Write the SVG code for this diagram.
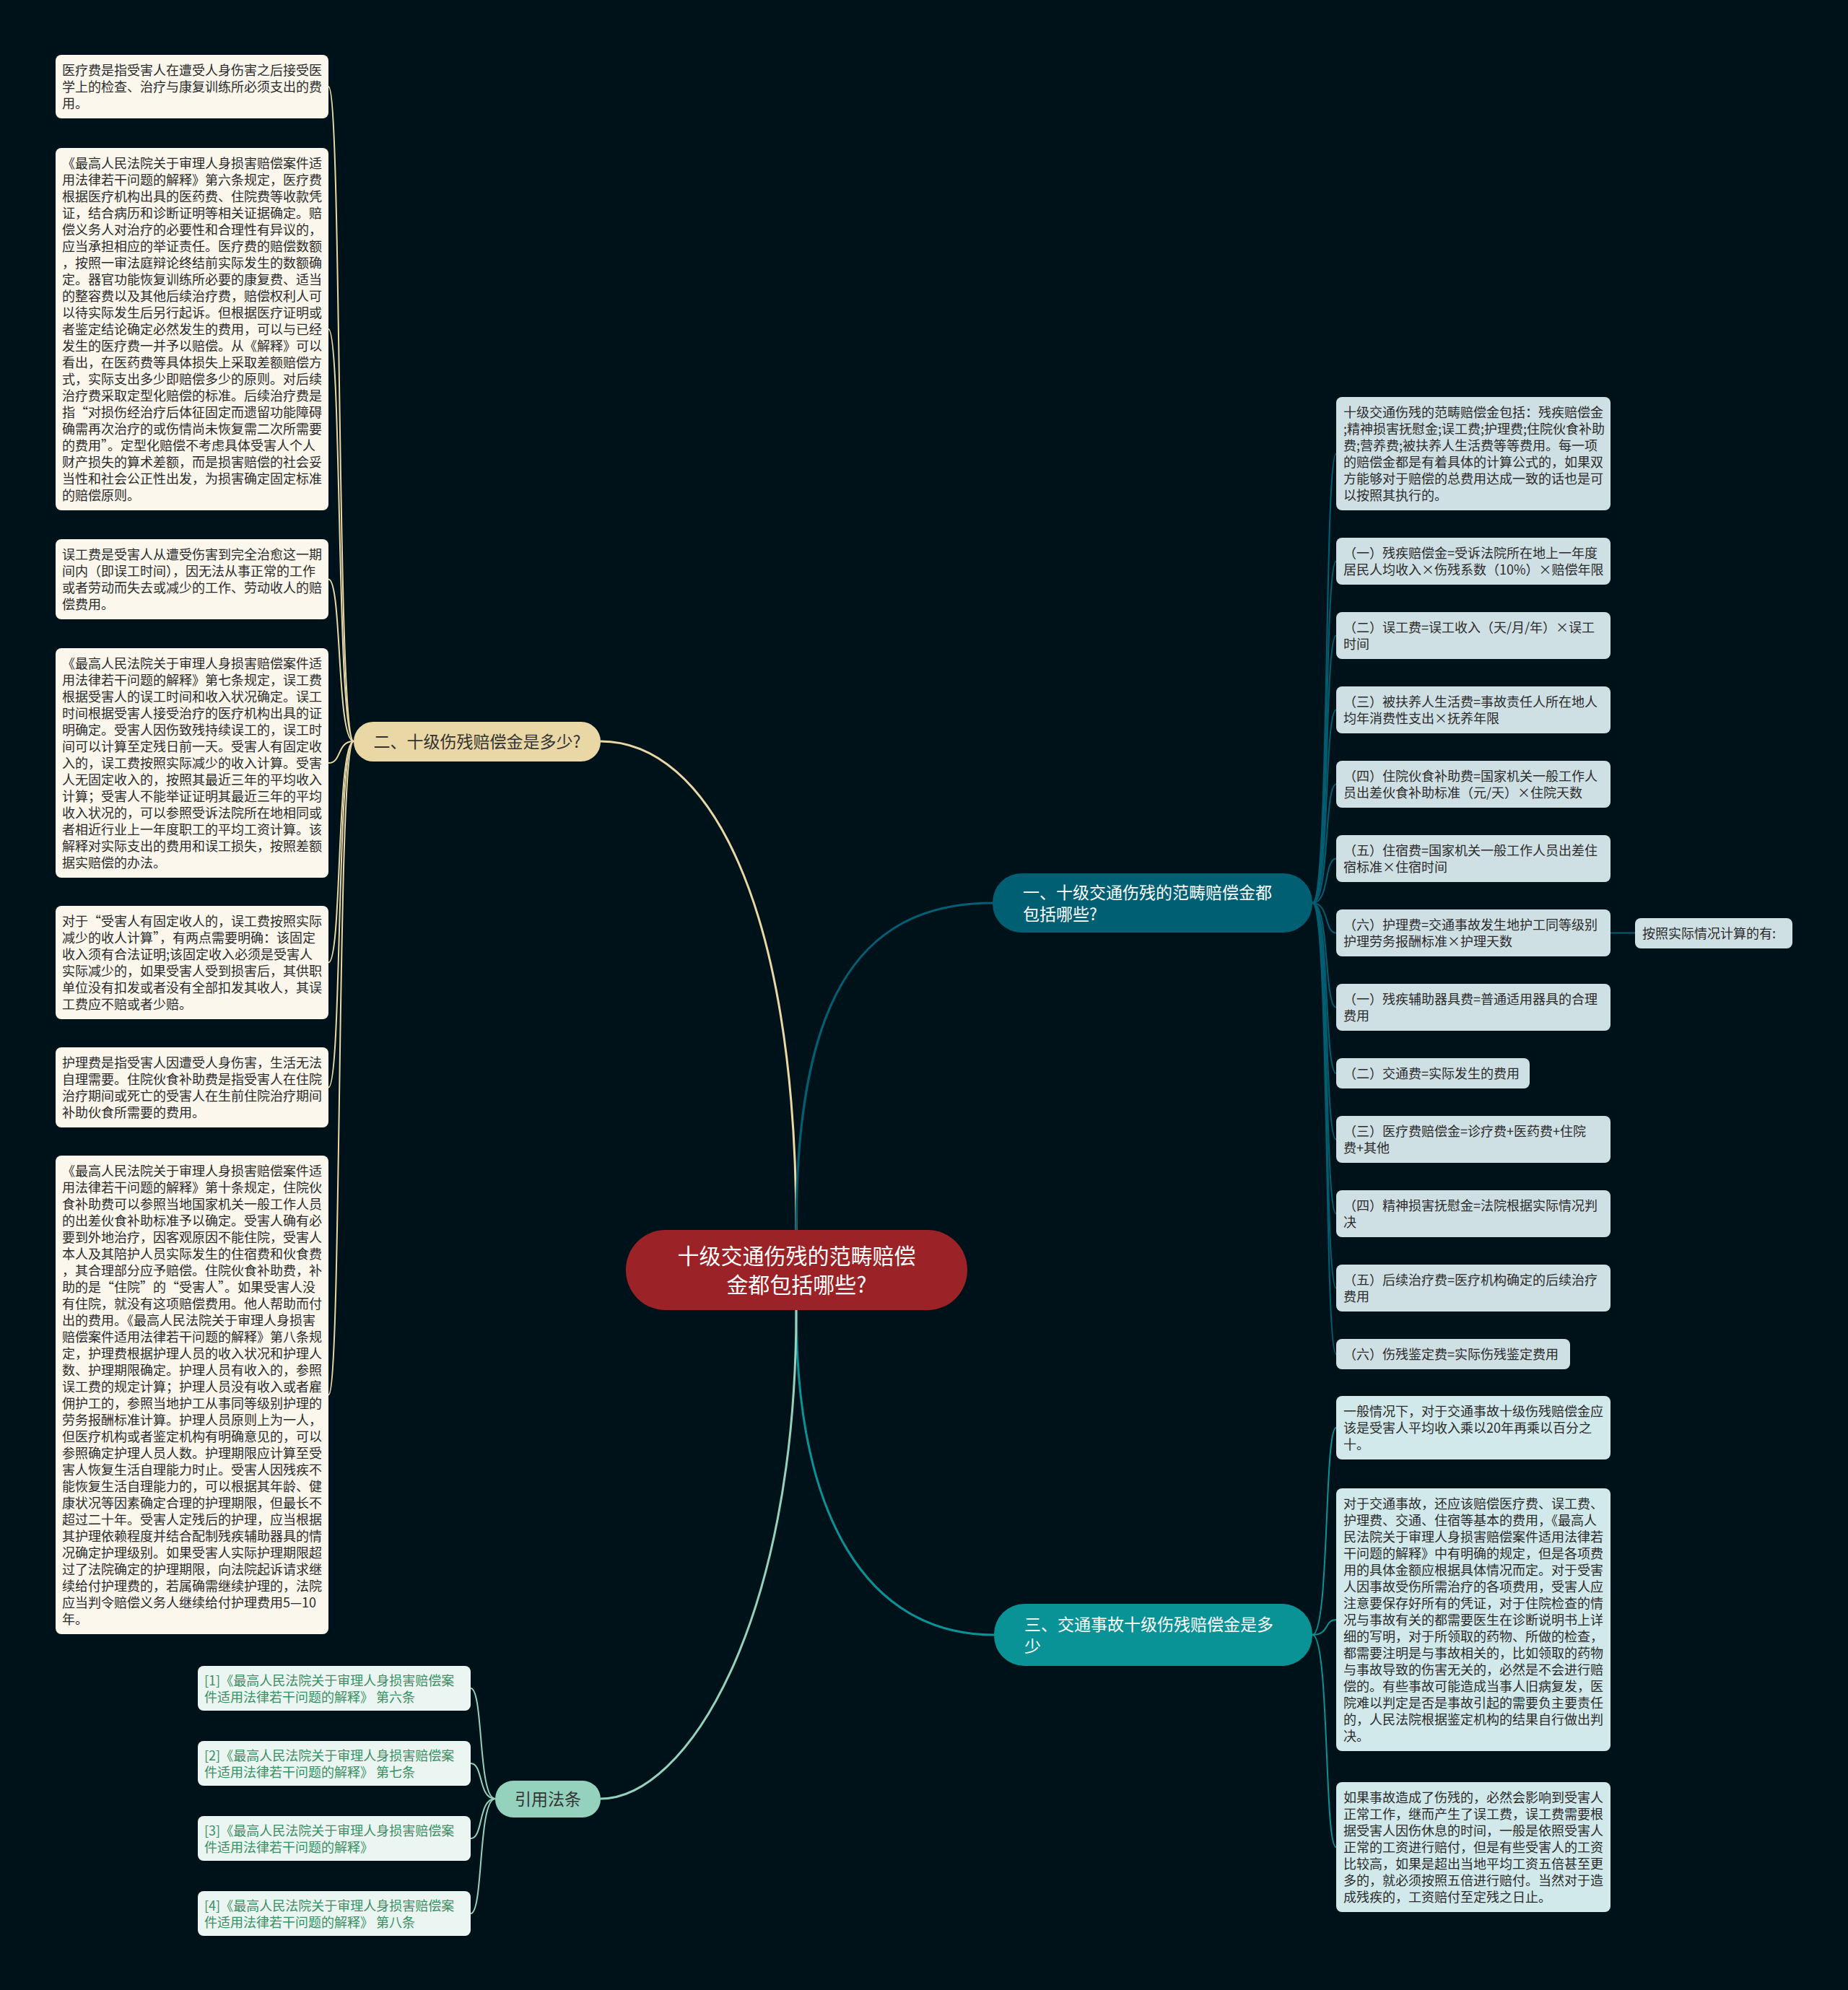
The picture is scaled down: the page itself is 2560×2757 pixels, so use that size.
<svg xmlns="http://www.w3.org/2000/svg" width="2560" height="2757" viewBox="0 0 2560 2757">
<style>
text{font-family:"Noto Sans CJK SC","Noto Sans",sans-serif;}
.t{font-size:18px;fill:#2b2b2b;}
.tc{font-size:18px;fill:#3a9064;}
.b{font-size:23px;}
.lb{fill:#fbf7ed;}
.r1{fill:#cfe0e4;}
.r3{fill:#d1e9ea;}
.cb{fill:#ebf5f1;}
.cn path{fill:none;}
.y{stroke:#e9d8a6;}
.d{stroke:#005f73;}
.g{stroke:#0a9396;}
.m{stroke:#94d2bd;}
.w3{stroke-width:3;}
.w2{stroke-width:2;}
</style>
<rect width="2560" height="2757" fill="#001219"/>

<g id="connectors" class="cn">
  <path class="y w3" d="M1103 1704 C1103 1250 980 1027 832 1027"/>
  <path class="d w3" d="M1103 1704 C1103 1400 1180 1251 1375 1251"/>
  <path class="g w3" d="M1103 1815 C1103 2100 1200 2265 1377 2265"/>
  <path class="m w3" d="M1103 1815 C1103 2250 950 2492 832 2492"/>
  <g class="y w2">
    <path d="M490 1027 C466 1027 474 120 455 120"/>
    <path d="M490 1027 C466 1027 474 456 455 456"/>
    <path d="M490 1027 C466 1027 474 802.5 455 802.5"/>
    <path d="M490 1027 C466 1027 474 1057 455 1057"/>
    <path d="M490 1027 C466 1027 474 1333.5 455 1333.5"/>
    <path d="M490 1027 C466 1027 474 1506.5 455 1506.5"/>
    <path d="M490 1027 C466 1027 474 1932.5 455 1932.5"/>
  </g>
  <g class="d w2">
    <path d="M1818 1251 C1842 1251 1834 628.5 1851 628.5"/>
    <path d="M1818 1251 C1842 1251 1834 777.5 1851 777.5"/>
    <path d="M1818 1251 C1842 1251 1834 880.5 1851 880.5"/>
    <path d="M1818 1251 C1842 1251 1834 983.5 1851 983.5"/>
    <path d="M1818 1251 C1842 1251 1834 1086.5 1851 1086.5"/>
    <path d="M1818 1251 C1842 1251 1834 1189.5 1851 1189.5"/>
    <path d="M1818 1251 C1842 1251 1834 1292.5 1851 1292.5"/>
    <path d="M1818 1251 C1842 1251 1834 1395.5 1851 1395.5"/>
    <path d="M1818 1251 C1842 1251 1834 1487 1851 1487"/>
    <path d="M1818 1251 C1842 1251 1834 1578.5 1851 1578.5"/>
    <path d="M1818 1251 C1842 1251 1834 1681.5 1851 1681.5"/>
    <path d="M1818 1251 C1842 1251 1834 1784.5 1851 1784.5"/>
    <path d="M1818 1251 C1842 1251 1834 1876 1851 1876"/>
    <path d="M2231 1292.5 L2265 1292.5"/>
  </g>
  <g class="g w2">
    <path d="M1818 2265 C1842 2265 1834 1978 1851 1978"/>
    <path d="M1818 2265 C1842 2265 1834 2244 1851 2244"/>
    <path d="M1818 2265 C1842 2265 1834 2559 1851 2559"/>
  </g>
  <g class="m w2">
    <path d="M686 2492 C662 2492 670 2339 652 2339"/>
    <path d="M686 2492 C662 2492 670 2443 652 2443"/>
    <path d="M686 2492 C662 2492 670 2547 652 2547"/>
    <path d="M686 2492 C662 2492 670 2651 652 2651"/>
  </g>
</g>

<g id="center">
  <rect x="867" y="1704" width="473" height="111" rx="55" fill="#9b2226"/>
  <text x="1103.5" y="1751" font-size="30" fill="#ffffff" text-anchor="middle">十级交通伤残的范畴赔偿</text>
  <text x="1103.5" y="1791" font-size="30" fill="#ffffff" text-anchor="middle">金都包括哪些?</text>
</g>

<g id="branch1">
  <rect x="1375" y="1210" width="443" height="82" rx="40" fill="#005f73"/>
  <text class="b" fill="#ffffff"><tspan x="1417" y="1245">一、十级交通伤残的范畴赔偿金都</tspan><tspan x="1417" y="1275">包括哪些?</tspan></text>
</g>
<g id="branch2">
  <rect x="490" y="1000" width="342" height="55" rx="27" fill="#e9d8a6"/>
  <text class="b" x="661" y="1036" fill="#333333" text-anchor="middle">二、十级伤残赔偿金是多少?</text>
</g>
<g id="branch3">
  <rect x="1377" y="2222" width="441" height="86" rx="42" fill="#0a9396"/>
  <text class="b" fill="#ffffff"><tspan x="1419" y="2259">三、交通事故十级伤残赔偿金是多</tspan><tspan x="1419" y="2289">少</tspan></text>
</g>
<g id="branch4">
  <rect x="686" y="2467" width="146" height="51" rx="25" fill="#94d2bd"/>
  <text class="b" x="759" y="2501" fill="#333333" text-anchor="middle">引用法条</text>
</g>

<g id="l1"><rect class="lb" x="77" y="76" width="378" height="88" rx="8"/>
<text class="t"><tspan x="86" y="104">医疗费是指受害人在遭受人身伤害之后接受医</tspan><tspan x="86" dy="23">学上的检查、治疗与康复训练所必须支出的费</tspan><tspan x="86" dy="23">用。</tspan></text></g>

<g id="l2"><rect class="lb" x="77" y="205" width="378" height="502" rx="8"/>
<text class="t"><tspan x="86" y="233">《最高人民法院关于审理人身损害赔偿案件适</tspan><tspan x="86" dy="23">用法律若干问题的解释》第六条规定，医疗费</tspan><tspan x="86" dy="23">根据医疗机构出具的医药费、住院费等收款凭</tspan><tspan x="86" dy="23">证，结合病历和诊断证明等相关证据确定。赔</tspan><tspan x="86" dy="23">偿义务人对治疗的必要性和合理性有异议的，</tspan><tspan x="86" dy="23">应当承担相应的举证责任。医疗费的赔偿数额</tspan><tspan x="86" dy="23">，按照一审法庭辩论终结前实际发生的数额确</tspan><tspan x="86" dy="23">定。器官功能恢复训练所必要的康复费、适当</tspan><tspan x="86" dy="23">的整容费以及其他后续治疗费，赔偿权利人可</tspan><tspan x="86" dy="23">以待实际发生后另行起诉。但根据医疗证明或</tspan><tspan x="86" dy="23">者鉴定结论确定必然发生的费用，可以与已经</tspan><tspan x="86" dy="23">发生的医疗费一并予以赔偿。从《解释》可以</tspan><tspan x="86" dy="23">看出，在医药费等具体损失上采取差额赔偿方</tspan><tspan x="86" dy="23">式，实际支出多少即赔偿多少的原则。对后续</tspan><tspan x="86" dy="23">治疗费采取定型化赔偿的标准。后续治疗费是</tspan><tspan x="86" dy="23">指“对损伤经治疗后体征固定而遗留功能障碍</tspan><tspan x="86" dy="23">确需再次治疗的或伤情尚未恢复需二次所需要</tspan><tspan x="86" dy="23">的费用”。定型化赔偿不考虑具体受害人个人</tspan><tspan x="86" dy="23">财产损失的算术差额，而是损害赔偿的社会妥</tspan><tspan x="86" dy="23">当性和社会公正性出发，为损害确定固定标准</tspan><tspan x="86" dy="23">的赔偿原则。</tspan></text></g>

<g id="l3"><rect class="lb" x="77" y="747" width="378" height="111" rx="8"/>
<text class="t"><tspan x="86" y="775">误工费是受害人从遭受伤害到完全治愈这一期</tspan><tspan x="86" dy="23">间内（即误工时间），因无法从事正常的工作</tspan><tspan x="86" dy="23">或者劳动而失去或减少的工作、劳动收人的赔</tspan><tspan x="86" dy="23">偿费用。</tspan></text></g>

<g id="l4"><rect class="lb" x="77" y="898" width="378" height="318" rx="8"/>
<text class="t"><tspan x="86" y="926">《最高人民法院关于审理人身损害赔偿案件适</tspan><tspan x="86" dy="23">用法律若干问题的解释》第七条规定，误工费</tspan><tspan x="86" dy="23">根据受害人的误工时间和收入状况确定。误工</tspan><tspan x="86" dy="23">时间根据受害人接受治疗的医疗机构出具的证</tspan><tspan x="86" dy="23">明确定。受害人因伤致残持续误工的，误工时</tspan><tspan x="86" dy="23">间可以计算至定残日前一天。受害人有固定收</tspan><tspan x="86" dy="23">入的，误工费按照实际减少的收入计算。受害</tspan><tspan x="86" dy="23">人无固定收入的，按照其最近三年的平均收入</tspan><tspan x="86" dy="23">计算；受害人不能举证证明其最近三年的平均</tspan><tspan x="86" dy="23">收入状况的，可以参照受诉法院所在地相同或</tspan><tspan x="86" dy="23">者相近行业上一年度职工的平均工资计算。该</tspan><tspan x="86" dy="23">解释对实际支出的费用和误工损失，按照差额</tspan><tspan x="86" dy="23">据实赔偿的办法。</tspan></text></g>

<g id="l5"><rect class="lb" x="77" y="1255" width="378" height="157" rx="8"/>
<text class="t"><tspan x="86" y="1283">对于“受害人有固定收人的，误工费按照实际</tspan><tspan x="86" dy="23">减少的收人计算”，有两点需要明确：该固定</tspan><tspan x="86" dy="23">收入须有合法证明;该固定收入必须是受害人</tspan><tspan x="86" dy="23">实际减少的，如果受害人受到损害后，其供职</tspan><tspan x="86" dy="23">单位没有扣发或者没有全部扣发其收人，其误</tspan><tspan x="86" dy="23">工费应不赔或者少赔。</tspan></text></g>

<g id="l6"><rect class="lb" x="77" y="1451" width="378" height="111" rx="8"/>
<text class="t"><tspan x="86" y="1479">护理费是指受害人因遭受人身伤害，生活无法</tspan><tspan x="86" dy="23">自理需要。住院伙食补助费是指受害人在住院</tspan><tspan x="86" dy="23">治疗期间或死亡的受害人在生前住院治疗期间</tspan><tspan x="86" dy="23">补助伙食所需要的费用。</tspan></text></g>

<g id="l7"><rect class="lb" x="77" y="1601" width="378" height="663" rx="8"/>
<text class="t"><tspan x="86" y="1629">《最高人民法院关于审理人身损害赔偿案件适</tspan><tspan x="86" dy="23">用法律若干问题的解释》第十条规定，住院伙</tspan><tspan x="86" dy="23">食补助费可以参照当地国家机关一般工作人员</tspan><tspan x="86" dy="23">的出差伙食补助标准予以确定。受害人确有必</tspan><tspan x="86" dy="23">要到外地治疗，因客观原因不能住院，受害人</tspan><tspan x="86" dy="23">本人及其陪护人员实际发生的住宿费和伙食费</tspan><tspan x="86" dy="23">，其合理部分应予赔偿。住院伙食补助费，补</tspan><tspan x="86" dy="23">助的是“住院”的“受害人”。如果受害人没</tspan><tspan x="86" dy="23">有住院，就没有这项赔偿费用。他人帮助而付</tspan><tspan x="86" dy="23">出的费用。《最高人民法院关于审理人身损害</tspan><tspan x="86" dy="23">赔偿案件适用法律若干问题的解释》第八条规</tspan><tspan x="86" dy="23">定，护理费根据护理人员的收入状况和护理人</tspan><tspan x="86" dy="23">数、护理期限确定。护理人员有收入的，参照</tspan><tspan x="86" dy="23">误工费的规定计算；护理人员没有收入或者雇</tspan><tspan x="86" dy="23">佣护工的，参照当地护工从事同等级别护理的</tspan><tspan x="86" dy="23">劳务报酬标准计算。护理人员原则上为一人，</tspan><tspan x="86" dy="23">但医疗机构或者鉴定机构有明确意见的，可以</tspan><tspan x="86" dy="23">参照确定护理人员人数。护理期限应计算至受</tspan><tspan x="86" dy="23">害人恢复生活自理能力时止。受害人因残疾不</tspan><tspan x="86" dy="23">能恢复生活自理能力的，可以根据其年龄、健</tspan><tspan x="86" dy="23">康状况等因素确定合理的护理期限，但最长不</tspan><tspan x="86" dy="23">超过二十年。受害人定残后的护理，应当根据</tspan><tspan x="86" dy="23">其护理依赖程度并结合配制残疾辅助器具的情</tspan><tspan x="86" dy="23">况确定护理级别。如果受害人实际护理期限超</tspan><tspan x="86" dy="23">过了法院确定的护理期限，向法院起诉请求继</tspan><tspan x="86" dy="23">续给付护理费的，若属确需继续护理的，法院</tspan><tspan x="86" dy="23">应当判令赔偿义务人继续给付护理费用5—10</tspan><tspan x="86" dy="23">年。</tspan></text></g>

<g id="ra"><rect class="r1" x="1851" y="550" width="380" height="157" rx="8"/>
<text class="t"><tspan x="1861" y="578">十级交通伤残的范畴赔偿金包括：残疾赔偿金</tspan><tspan x="1861" dy="23">;精神损害抚慰金;误工费;护理费;住院伙食补助</tspan><tspan x="1861" dy="23">费;营养费;被扶养人生活费等等费用。每一项</tspan><tspan x="1861" dy="23">的赔偿金都是有着具体的计算公式的，如果双</tspan><tspan x="1861" dy="23">方能够对于赔偿的总费用达成一致的话也是可</tspan><tspan x="1861" dy="23">以按照其执行的。</tspan></text></g>
<g id="rb"><rect class="r1" x="1851" y="745" width="380" height="65" rx="8"/>
<text class="t"><tspan x="1861" y="773">（一）残疾赔偿金=受诉法院所在地上一年度</tspan><tspan x="1861" dy="23">居民人均收入×伤残系数（10%）×赔偿年限</tspan></text></g>
<g id="rc"><rect class="r1" x="1851" y="848" width="380" height="65" rx="8"/>
<text class="t"><tspan x="1861" y="876">（二）误工费=误工收入（天/月/年）×误工</tspan><tspan x="1861" dy="23">时间</tspan></text></g>
<g id="rd"><rect class="r1" x="1851" y="951" width="380" height="65" rx="8"/>
<text class="t"><tspan x="1861" y="979">（三）被扶养人生活费=事故责任人所在地人</tspan><tspan x="1861" dy="23">均年消费性支出×抚养年限</tspan></text></g>
<g id="re"><rect class="r1" x="1851" y="1054" width="380" height="65" rx="8"/>
<text class="t"><tspan x="1861" y="1082">（四）住院伙食补助费=国家机关一般工作人</tspan><tspan x="1861" dy="23">员出差伙食补助标准（元/天）×住院天数</tspan></text></g>
<g id="rf"><rect class="r1" x="1851" y="1157" width="380" height="65" rx="8"/>
<text class="t"><tspan x="1861" y="1185">（五）住宿费=国家机关一般工作人员出差住</tspan><tspan x="1861" dy="23">宿标准×住宿时间</tspan></text></g>
<g id="rg"><rect class="r1" x="1851" y="1260" width="380" height="65" rx="8"/>
<text class="t"><tspan x="1861" y="1288">（六）护理费=交通事故发生地护工同等级别</tspan><tspan x="1861" dy="23">护理劳务报酬标准×护理天数</tspan></text></g>
<g id="rg1"><rect class="r1" x="2265" y="1272" width="218" height="42" rx="8"/>
<text class="t" x="2275" y="1300">按照实际情况计算的有:</text></g>
<g id="rh"><rect class="r1" x="1851" y="1363" width="380" height="65" rx="8"/>
<text class="t"><tspan x="1861" y="1391">（一）残疾辅助器具费=普通适用器具的合理</tspan><tspan x="1861" dy="23">费用</tspan></text></g>
<g id="ri"><rect class="r1" x="1851" y="1466" width="268" height="42" rx="8"/>
<text class="t" x="1861" y="1494">（二）交通费=实际发生的费用</text></g>
<g id="rj"><rect class="r1" x="1851" y="1546" width="380" height="65" rx="8"/>
<text class="t"><tspan x="1861" y="1574">（三）医疗费赔偿金=诊疗费+医药费+住院</tspan><tspan x="1861" dy="23">费+其他</tspan></text></g>
<g id="rk"><rect class="r1" x="1851" y="1649" width="380" height="65" rx="8"/>
<text class="t"><tspan x="1861" y="1677">（四）精神损害抚慰金=法院根据实际情况判</tspan><tspan x="1861" dy="23">决</tspan></text></g>
<g id="rl"><rect class="r1" x="1851" y="1752" width="380" height="65" rx="8"/>
<text class="t"><tspan x="1861" y="1780">（五）后续治疗费=医疗机构确定的后续治疗</tspan><tspan x="1861" dy="23">费用</tspan></text></g>
<g id="rm"><rect class="r1" x="1851" y="1855" width="324" height="42" rx="8"/>
<text class="t" x="1861" y="1883">（六）伤残鉴定费=实际伤残鉴定费用</text></g>

<g id="rn"><rect class="r3" x="1851" y="1934" width="380" height="88" rx="8"/>
<text class="t"><tspan x="1861" y="1962">一般情况下，对于交通事故十级伤残赔偿金应</tspan><tspan x="1861" dy="23">该是受害人平均收入乘以20年再乘以百分之</tspan><tspan x="1861" dy="23">十。</tspan></text></g>
<g id="ro"><rect class="r3" x="1851" y="2062" width="380" height="364" rx="8"/>
<text class="t"><tspan x="1861" y="2090">对于交通事故，还应该赔偿医疗费、误工费、</tspan><tspan x="1861" dy="23">护理费、交通、住宿等基本的费用，《最高人</tspan><tspan x="1861" dy="23">民法院关于审理人身损害赔偿案件适用法律若</tspan><tspan x="1861" dy="23">干问题的解释》中有明确的规定，但是各项费</tspan><tspan x="1861" dy="23">用的具体金额应根据具体情况而定。对于受害</tspan><tspan x="1861" dy="23">人因事故受伤所需治疗的各项费用，受害人应</tspan><tspan x="1861" dy="23">注意要保存好所有的凭证，对于住院检查的情</tspan><tspan x="1861" dy="23">况与事故有关的都需要医生在诊断说明书上详</tspan><tspan x="1861" dy="23">细的写明，对于所领取的药物、所做的检查，</tspan><tspan x="1861" dy="23">都需要注明是与事故相关的，比如领取的药物</tspan><tspan x="1861" dy="23">与事故导致的伤害无关的，必然是不会进行赔</tspan><tspan x="1861" dy="23">偿的。有些事故可能造成当事人旧病复发，医</tspan><tspan x="1861" dy="23">院难以判定是否是事故引起的需要负主要责任</tspan><tspan x="1861" dy="23">的，人民法院根据鉴定机构的结果自行做出判</tspan><tspan x="1861" dy="23">决。</tspan></text></g>
<g id="rp"><rect class="r3" x="1851" y="2469" width="380" height="180" rx="8"/>
<text class="t"><tspan x="1861" y="2497">如果事故造成了伤残的，必然会影响到受害人</tspan><tspan x="1861" dy="23">正常工作，继而产生了误工费，误工费需要根</tspan><tspan x="1861" dy="23">据受害人因伤休息的时间，一般是依照受害人</tspan><tspan x="1861" dy="23">正常的工资进行赔付，但是有些受害人的工资</tspan><tspan x="1861" dy="23">比较高，如果是超出当地平均工资五倍甚至更</tspan><tspan x="1861" dy="23">多的，就必须按照五倍进行赔付。当然对于造</tspan><tspan x="1861" dy="23">成残疾的，工资赔付至定残之日止。</tspan></text></g>

<g id="c1"><rect class="cb" x="274" y="2308" width="378" height="62" rx="8"/>
<text class="tc"><tspan x="283" y="2335">[1]《最高人民法院关于审理人身损害赔偿案</tspan><tspan x="283" dy="23">件适用法律若干问题的解释》 第六条</tspan></text></g>
<g id="c2"><rect class="cb" x="274" y="2412" width="378" height="62" rx="8"/>
<text class="tc"><tspan x="283" y="2439">[2]《最高人民法院关于审理人身损害赔偿案</tspan><tspan x="283" dy="23">件适用法律若干问题的解释》 第七条</tspan></text></g>
<g id="c3"><rect class="cb" x="274" y="2516" width="378" height="62" rx="8"/>
<text class="tc"><tspan x="283" y="2543">[3]《最高人民法院关于审理人身损害赔偿案</tspan><tspan x="283" dy="23">件适用法律若干问题的解释》</tspan></text></g>
<g id="c4"><rect class="cb" x="274" y="2620" width="378" height="62" rx="8"/>
<text class="tc"><tspan x="283" y="2647">[4]《最高人民法院关于审理人身损害赔偿案</tspan><tspan x="283" dy="23">件适用法律若干问题的解释》 第八条</tspan></text></g>
</svg>
